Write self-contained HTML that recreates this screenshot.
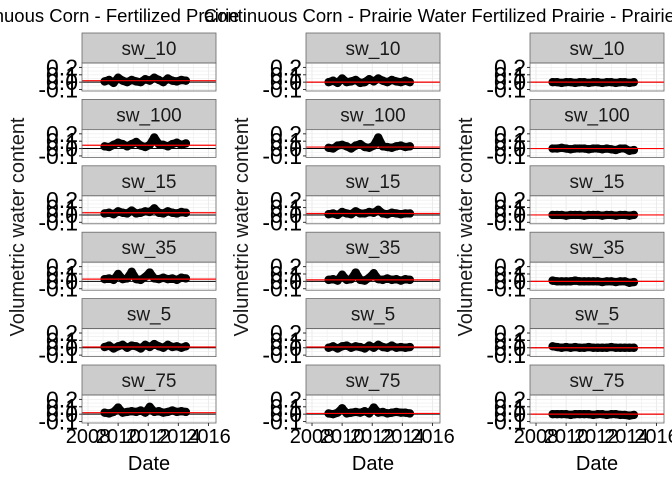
<!DOCTYPE html>
<html><head><meta charset="utf-8"><style>
body{margin:0;background:#fff}
svg{display:block;font-family:"Liberation Sans",sans-serif}
</style></head><body>
<svg id="c" width="672" height="480"></svg>
<script>
const titles=["Continuous Corn - Fertilized Prairie","Continuous Corn - Prairie Water","Fertilized Prairie - Prairie Water"];
const titleCenters=[95,335,600];
const depths=["sw_10","sw_100","sw_15","sw_35","sw_5","sw_75"];
const years=[2009.1,2009.4,2009.7,2010.0,2010.3,2010.6,2010.9,2011.2,2011.5,2011.8,2012.1,2012.4,2012.7,2013.0,2013.3,2013.6,2013.9,2014.2,2014.5];
const xTicks=[2008,2010,2012,2014,2016];
const yTicks=[0.2,0.1,0.0,-0.1];
const redLines=[[0.02,0.045,0.03,0.03,0.01,0.02],[0.0,0.02,0.02,0.02,0.01,0.01],[0.0,0.0,0.0,0.0,0.0,0.0]];
const vals=[
[[0.01,0.03,-0.01,0.06,0.02,0.0,0.03,0.01,0.0,0.04,0.02,0.06,0.03,0.0,0.05,0.02,0.01,0.03,0.02],
 [0.03,0.02,0.05,0.08,0.06,0.03,0.06,0.09,0.04,0.02,0.05,0.15,0.06,0.05,0.03,0.06,0.08,0.05,0.07],
 [0.02,0.03,0.01,0.05,0.03,0.02,0.06,0.02,0.03,0.05,0.04,0.09,0.03,0.02,0.05,0.03,0.02,0.04,0.03],
 [0.03,0.04,0.02,0.10,0.03,0.04,0.13,0.03,0.02,0.06,0.12,0.04,0.03,0.05,0.03,0.04,0.02,0.05,0.04],
 [0.01,0.03,-0.01,0.02,0.04,0.0,0.03,0.02,-0.01,0.04,0.01,0.05,0.02,0.0,0.04,0.01,0.02,0.0,0.02],
 [0.02,0.01,0.03,0.09,0.02,0.03,0.04,0.03,0.05,0.02,0.10,0.03,0.04,0.02,0.03,0.05,0.03,0.04,0.03]],
[[0.0,0.02,-0.01,0.05,0.0,0.01,0.03,-0.01,0.0,0.04,0.01,0.05,0.02,0.0,0.03,0.01,0.0,0.02,0.0],
 [0.01,0.0,0.04,0.05,0.03,0.0,0.04,0.06,0.02,0.01,0.04,0.15,0.03,0.02,0.01,0.03,0.04,0.02,0.03],
 [0.01,0.02,0.0,0.04,0.02,0.01,0.05,0.02,0.02,0.04,0.03,0.07,0.02,0.01,0.03,0.02,0.01,0.02,0.02],
 [0.02,0.03,0.01,0.09,0.02,0.03,0.12,0.02,0.01,0.05,0.11,0.03,0.02,0.04,0.02,0.03,0.01,0.03,0.02],
 [0.0,0.02,-0.01,0.02,0.03,0.0,0.02,0.01,-0.01,0.03,0.0,0.04,0.01,0.0,0.03,0.0,0.01,0.0,0.01],
 [0.01,0.0,0.02,0.08,0.01,0.02,0.03,0.02,0.04,0.01,0.09,0.02,0.03,0.01,0.02,0.03,0.02,0.02,0.01]],
[[0.0,0.0,-0.01,0.0,0.0,-0.01,0.0,0.0,-0.01,0.0,0.0,-0.01,0.0,0.0,-0.01,0.0,0.0,-0.01,0.0],
 [0.0,0.0,0.01,0.0,-0.01,0.0,0.0,0.0,-0.01,0.0,0.0,-0.01,0.0,-0.01,-0.02,0.0,0.0,-0.03,-0.02],
 [0.0,0.0,0.0,-0.01,0.0,0.0,0.0,-0.01,0.0,0.0,0.0,-0.01,0.0,0.0,-0.01,0.0,0.0,-0.01,0.0],
 [0.01,0.0,0.0,0.0,0.0,0.01,0.0,0.0,0.0,0.0,0.0,-0.01,0.0,0.0,-0.01,0.0,0.0,-0.02,-0.01],
 [0.02,0.01,0.0,0.01,0.0,0.01,0.0,0.0,0.01,0.0,0.0,0.0,0.0,0.01,0.0,0.0,0.0,0.0,0.0],
 [0.0,0.0,0.0,0.0,-0.01,0.0,0.0,0.0,0.0,-0.01,0.0,0.0,-0.01,0.0,0.0,-0.01,-0.01,-0.02,-0.01]]
];
const NS="http://www.w3.org/2000/svg";
const svg=document.getElementById('c');
function mk(t,a,p){const e=document.createElementNS(NS,t);for(const k in a)e.setAttribute(k,a[k]);(p||svg).appendChild(e);return e;}
const colX=[82,306,530],PW=134,rowY=[33,99.4,165.8,232.2,298.6,365],SH=30,PH=28;
const yMin=-0.12,yMax=0.26,xMin=2007.6,xMax=2016.5;
titles.forEach((t,c)=>{
 const x0=colX[c];
 const sx=v=>x0+(v-xMin)/(xMax-xMin)*PW;
 const tt=mk('text',{x:titleCenters[c],y:22,'text-anchor':'middle','font-size':18.5,fill:'#000'});tt.textContent=t;
 
 
 const yt=mk('text',{x:0,y:0,'text-anchor':'middle','font-size':20,fill:'#1a1a1a',transform:`translate(${x0-58},227) rotate(-90)`});yt.textContent='Volumetric water content';
 
 
 depths.forEach((d,r)=>{
  const sy0=rowY[r],py0=sy0+SH;
  const sy=v=>py0+(yMax-v)/(yMax-yMin)*PH;
  const g=mk('g',{});
  
  
  mk('rect',{x:x0,y:sy0,width:PW,height:SH,fill:'#cccccc',stroke:'#666','stroke-width':0.8},g);
  const st=mk('text',{x:x0+PW/2,y:sy0+22,'text-anchor':'middle','font-size':19,fill:'#1a1a1a'},g);st.textContent=d;
  
  
  mk('rect',{x:x0,y:py0,width:PW,height:PH,fill:'#fff'},g);
  for(let yr=2007;yr<=2017;yr++){const xx=sx(yr);if(xx>x0&&xx<x0+PW)mk('line',{x1:xx,x2:xx,y1:py0,y2:py0+PH,stroke:'#ebebeb','stroke-width':yr%2?0.5:1},g);}
  [-0.1,-0.05,0,0.05,0.1,0.15,0.2,0.25].forEach(v=>{mk('line',{x1:x0,x2:x0+PW,y1:sy(v),y2:sy(v),stroke:'#ebebeb','stroke-width':0.6},g);});
  const v=vals[c][r];
  mk('polyline',{points:v.map((y,i)=>sx(years[i])+','+sy(y)).join(' '),fill:'none',stroke:'#000','stroke-width':8,'stroke-linejoin':'round','stroke-linecap':'round'},g);
  v.forEach((y,i)=>{const p=mk('circle',{cx:sx(years[i]),cy:sy(y),r:4.2,fill:'#000'},g);
   
   });
  mk('line',{x1:x0,x2:x0+PW,y1:sy(0),y2:sy(0),stroke:'#000','stroke-width':1},g);
  mk('line',{x1:x0,x2:x0+PW,y1:sy(redLines[c][r]),y2:sy(redLines[c][r]),stroke:'#f00','stroke-width':1.2},g);
  mk('rect',{x:x0,y:py0,width:PW,height:PH,fill:'none',stroke:'#666','stroke-width':0.8},g);
  yTicks.forEach(tv=>{const yy=sy(tv);mk('line',{x1:x0-3,x2:x0,y1:yy,y2:yy,stroke:'#333'},g);
   const tl=mk('text',{x:x0-4,y:yy+8,'text-anchor':'end','font-size':23,fill:'#000'},g);tl.textContent=tv.toFixed(1);
   
   });
  if(r===5){xTicks.forEach(xv=>{const xx=sx(xv);mk('line',{x1:xx,x2:xx,y1:py0+PH,y2:py0+PH+3,stroke:'#333'},g);
   const xl=mk('text',{x:xx,y:py0+PH+20,'text-anchor':'middle','font-size':20,fill:'#000'},g);xl.textContent=xv;
   
   });}
 });
 const xt=mk('text',{x:x0+PW/2,y:470,'text-anchor':'middle','font-size':20,fill:'#000'});xt.textContent='Date';
 
 
});
</script>
</body></html>
